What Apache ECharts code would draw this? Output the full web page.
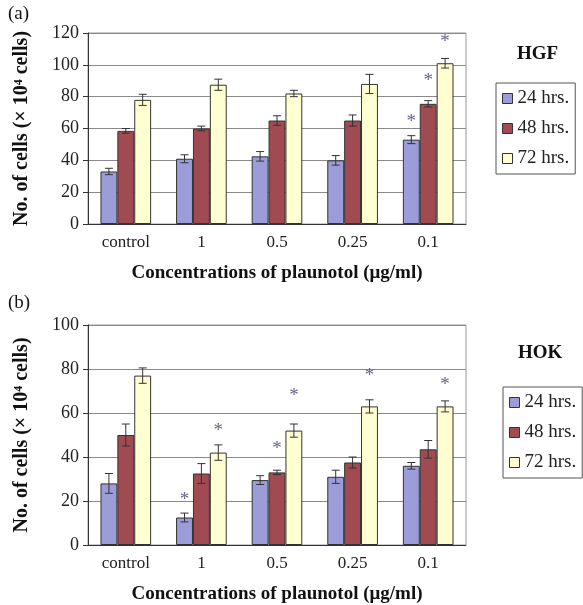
<!DOCTYPE html>
<html>
<head>
<meta charset="utf-8">
<script src="https://cdn.jsdelivr.net/npm/echarts@6/dist/echarts.min.js"></script>
<style>
  html, body { margin: 0; padding: 0; background: #fff; }
  #chart { width: 583px; height: 605px; }
</style>
</head>
<body>
<div id="chart"></div>
<script>
const categories = ['control', '1', '0.5', '0.25', '0.1'];
const seriesNames = ['24 hrs.', '48 hrs.', '72 hrs.'];

// panel (a) HGF
const hgf24 = [33, 41, 42.5, 40, 53];
const hgf48 = [58.5, 60, 65, 65, 75.5];
const hgf72 = [78, 87.5, 82, 88, 101];
const hgf24Err = [2, 2.5, 3, 3, 2.5];
const hgf48Err = [1.5, 1.5, 3, 3.5, 2];
const hgf72Err = [3.5, 3.5, 2, 6, 3];
// [category index, series index, y]
const hgfStars = [[4, 0, 66], [4, 1, 92], [4, 2, 116]];

// panel (b) HOK
const hok24 = [28, 12.5, 29.5, 31, 36];
const hok48 = [50, 32.5, 33, 37.5, 43.5];
const hok72 = [77, 42, 52, 63, 63];
const hok24Err = [4.5, 2, 2, 3, 1.5];
const hok48Err = [5, 4.5, 1, 2.5, 4];
const hok72Err = [3.5, 3.5, 3, 3, 2.5];
const hokStars = [[1, 0, 22], [1, 2, 53], [2, 1, 45], [2, 2, 69], [3, 2, 78], [4, 2, 74]];

const colors = ['#9c9cd8', '#a04a52', '#ffffd2'];
const serif = '"Liberation Serif", "DejaVu Serif", serif';
const GAP = 0.33;

function errData(vals, errs) {
  const out = [];
  vals.forEach((v, k) => v.forEach((y, i) => out.push([i, k, y, errs[k][i]])));
  return out;
}

function errRender(params, api) {
  const cat = api.value(0), k = api.value(1), v = api.value(2), e = api.value(3);
  const bw = api.size([1, 0])[0] * (1 - GAP) / 3;
  const x = api.coord([cat, v])[0] + (k - 1) * bw;
  const yt = api.coord([cat, v + e])[1];
  const yb = api.coord([cat, v - e])[1];
  const c = 4;
  const st = { stroke: '#333', lineWidth: 1 };
  return {
    type: 'group',
    children: [
      { type: 'line', shape: { x1: x, y1: yt, x2: x, y2: yb }, style: st },
      { type: 'line', shape: { x1: x - c, y1: yt, x2: x + c, y2: yt }, style: st },
      { type: 'line', shape: { x1: x - c, y1: yb, x2: x + c, y2: yb }, style: st }
    ]
  };
}

function starRender(params, api) {
  const cat = api.value(0), k = api.value(1), v = api.value(2);
  const bw = api.size([1, 0])[0] * (1 - GAP) / 3;
  const p = api.coord([cat, v]);
  return {
    type: 'text',
    x: p[0] + (k - 1) * bw,
    y: p[1] + 3,
    style: { text: '*', fill: '#66668a', font: '19px ' + serif, align: 'center', verticalAlign: 'middle' }
  };
}

function barSeries(vals, gi) {
  return vals.map((v, k) => ({
    name: seriesNames[k],
    type: 'bar',
    xAxisIndex: gi,
    yAxisIndex: gi,
    data: v,
    barGap: '0%',
    barCategoryGap: '33%',
    itemStyle: { color: colors[k], borderColor: '#333', borderWidth: 1 }
  }));
}

const xAxisCommon = {
  type: 'category',
  data: categories,
  axisLine: { lineStyle: { color: '#333' } },
  axisTick: { length: 5, lineStyle: { color: '#333' } },
  axisLabel: { color: '#222', fontFamily: serif, fontSize: 17, margin: 10 },
  name: 'Concentrations of plaunotol (\u03bcg/ml)',
  nameLocation: 'middle',
  nameGap: 40,
  nameTextStyle: { color: '#111', fontFamily: serif, fontSize: 19, fontWeight: 'bold' }
};

const yAxisCommon = {
  type: 'value',
  min: 0,
  interval: 20,
  axisLine: { show: true, lineStyle: { color: '#333' } },
  axisTick: { show: true, length: 5, lineStyle: { color: '#333' } },
  axisLabel: { color: '#222', fontFamily: serif, fontSize: 18, margin: 9 },
  splitLine: { lineStyle: { color: '#8a8a8a' } },
  name: 'No. of cells (\u00d7 10\u2074 cells)',
  nameLocation: 'middle',
  nameGap: 56,
  nameTextStyle: { color: '#111', fontFamily: serif, fontSize: 20, fontWeight: 'bold' }
};

const legendCommon = {
  orient: 'vertical',
  data: seriesNames,
  itemWidth: 10,
  itemHeight: 10,
  itemGap: 9,
  icon: 'rect',
  borderColor: '#555',
  borderWidth: 1,
  padding: [5, 6, 5, 6],
  textStyle: { color: '#222', fontFamily: serif, fontSize: 19, lineHeight: 21 },
  itemStyle: { borderColor: '#333', borderWidth: 1 }
};

const chart = echarts.init(document.getElementById('chart'));
chart.setOption({
  animation: false,
  grid: [
    { left: 88, top: 33, width: 378, height: 191, show: true, borderColor: '#999' },
    { left: 88, top: 325, width: 378, height: 221, show: true, borderColor: '#999' }
  ],
  xAxis: [
    Object.assign({ gridIndex: 0 }, xAxisCommon),
    Object.assign({ gridIndex: 1 }, xAxisCommon)
  ],
  yAxis: [
    Object.assign({ gridIndex: 0, max: 120 }, yAxisCommon),
    Object.assign({ gridIndex: 1, max: 100 }, yAxisCommon)
  ],
  legend: [
    Object.assign({ left: 496, top: 83 }, legendCommon),
    Object.assign({ left: 503, top: 387 }, legendCommon)
  ],
  graphic: [
    { type: 'text', left: 8, top: 5, style: { text: '(a)', font: '19px ' + serif, fill: '#111' } },
    { type: 'text', left: 8, top: 294, style: { text: '(b)', font: '19px ' + serif, fill: '#111' } },
    { type: 'text', left: 517, top: 45, style: { text: 'HGF', font: 'bold 19px ' + serif, fill: '#111' } },
    { type: 'text', left: 518, top: 344, style: { text: 'HOK', font: 'bold 19px ' + serif, fill: '#111' } }
  ],
  series: [
    ...barSeries([hgf24, hgf48, hgf72], 0),
    ...barSeries([hok24, hok48, hok72], 1),
    {
      type: 'custom', xAxisIndex: 0, yAxisIndex: 0, z: 5,
      renderItem: errRender, encode: { x: 0, y: 2 },
      data: errData([hgf24, hgf48, hgf72], [hgf24Err, hgf48Err, hgf72Err])
    },
    {
      type: 'custom', xAxisIndex: 1, yAxisIndex: 1, z: 5,
      renderItem: errRender, encode: { x: 0, y: 2 },
      data: errData([hok24, hok48, hok72], [hok24Err, hok48Err, hok72Err])
    },
    {
      type: 'custom', xAxisIndex: 0, yAxisIndex: 0, z: 5,
      renderItem: starRender, encode: { x: 0, y: 2 }, data: hgfStars
    },
    {
      type: 'custom', xAxisIndex: 1, yAxisIndex: 1, z: 5,
      renderItem: starRender, encode: { x: 0, y: 2 }, data: hokStars
    }
  ]
});
</script>
</body>
</html>
